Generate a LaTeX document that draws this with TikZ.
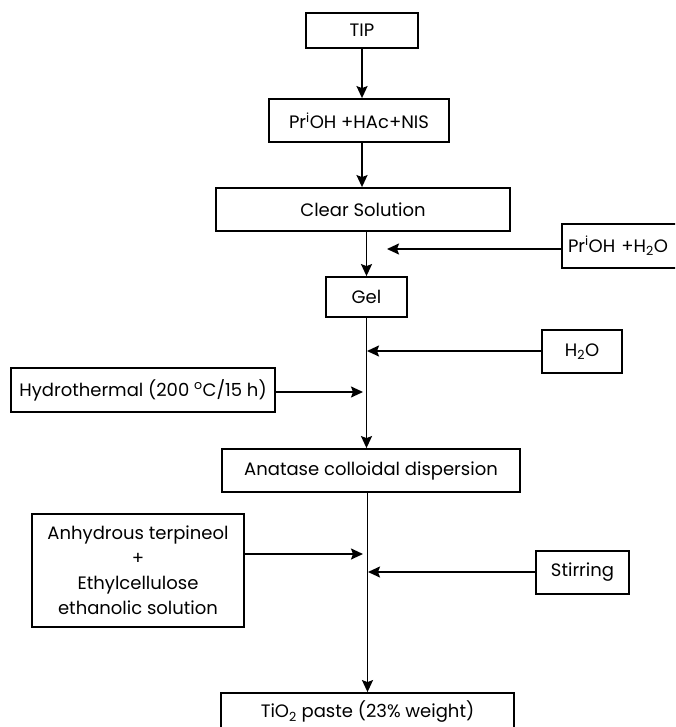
\documentclass[tikz,border=0pt]{standalone}
\usepackage{fontspec}
\setmainfont{Poppins}
\usetikzlibrary{arrows.meta,calc}
\tikzset{
  box/.style={draw, line width=1.8pt, inner sep=0pt, align=center, font=\fontsize{18}{25}\selectfont},
  flow/.style={line width=1.8pt, -{Stealth[length=12pt,width=11pt,inset=2pt]}}
}
\newcommand{\supi}{\textsuperscript{i}}
\begin{document}
\begin{tikzpicture}[x=1pt,y=-1pt]
\useasboundingbox (0,0) rectangle (675,727);
\clip (0,0) rectangle (675,727);
\fill[white] (0,0) rectangle (675,727);
\node[box, minimum width=112, minimum height=35] (tip) at (362,30.5) {TIP};
\node[box, minimum width=180, minimum height=43] (pr) at (359,120.5) {Pr\supi OH +HAc+NIS};
\node[box, minimum width=294, minimum height=43] (clear) at (363,209.5) {Clear Solution};
\node[box, minimum width=128, minimum height=44, text width=116, align=left] (ph) at (626,246) {Pr\supi OH +H\textsubscript{2}O};
\node[box, minimum width=81, minimum height=40] (gel) at (366.5,297) {Gel};
\node[box, minimum width=80, minimum height=43] (water) at (582,351.5) {H\textsubscript{2}O};
\node[box, minimum width=264, minimum height=44] (hydro) at (143,390) {Hydrothermal (200 \textsuperscript{o}C/15 h)};
\node[box, minimum width=298, minimum height=43] (anatase) at (371,470.5) {Anatase colloidal dispersion};
\node[box, minimum width=212, minimum height=113] (anh) at (138,570.5) {Anhydrous terpineol\\+\\Ethylcellulose\\ethanolic solution};
\node[box, minimum width=93, minimum height=43] (stir) at (582.5,572.5) {Stirring};
\node[box, minimum width=293, minimum height=38] (tio) at (367.5,712) {TiO\textsubscript{2} paste (23\% weight)};
\coordinate (c1) at (387,249);
\coordinate (c2) at (367,351);
\coordinate (c3) at (363,392);
\coordinate (c4) at (363,554);
\coordinate (c5) at (368,572);
\draw[flow] (tip.south) -- (tip.south |- pr.north);
\draw[flow] (tip.south |- pr.south) -- (tip.south |- clear.north);
\draw[flow] (gel.north |- clear.south) -- (gel.north);
\draw[flow] (ph.west |- c1) -- (c1);
\draw[flow] (gel.south) -- (gel.south |- anatase.north);
\draw[flow] (water.west |- c2) -- (c2);
\draw[flow] (hydro.east |- c3) -- (c3);
\draw[flow] (tio.north |- anatase.south) -- (tio.north);
\draw[flow] (anh.east |- c4) -- (c4);
\draw[flow] (stir.west |- c5) -- (c5);
\end{tikzpicture}
\end{document}
